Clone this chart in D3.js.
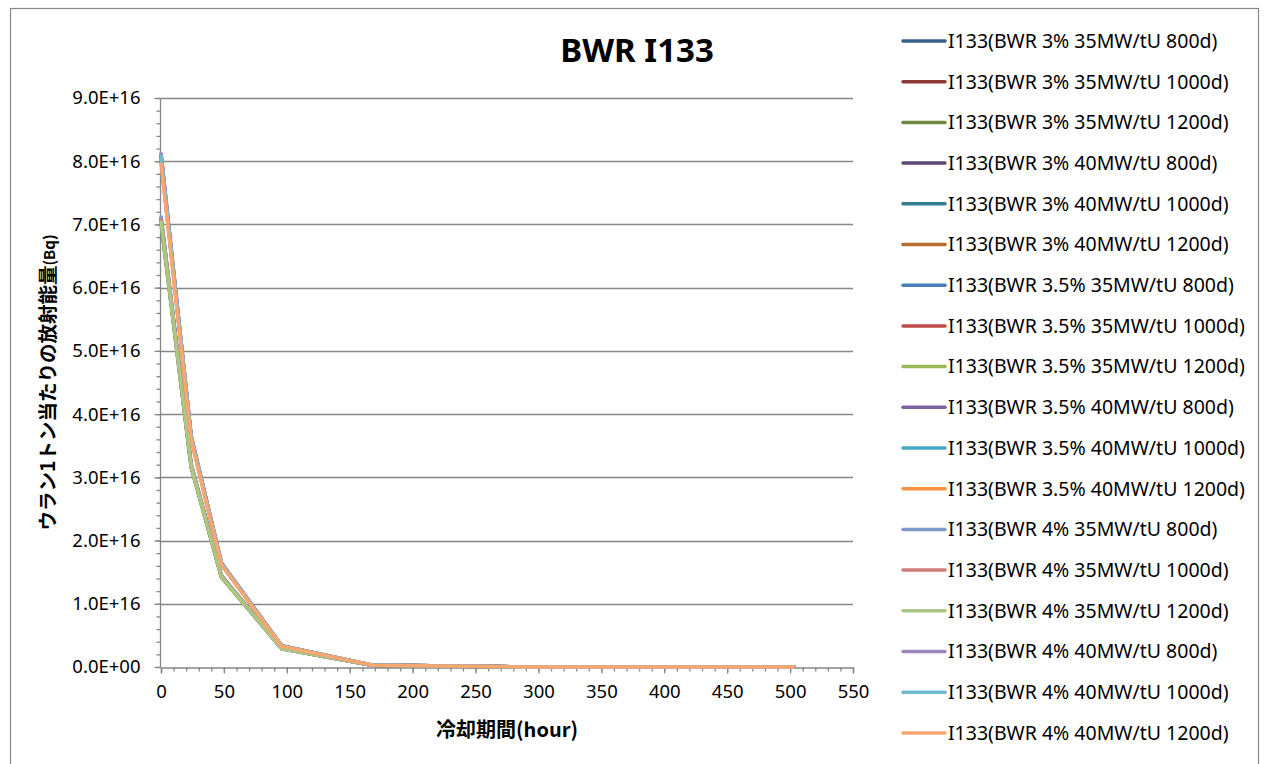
<!DOCTYPE html>
<html>
<head>
<meta charset="utf-8">
<title>BWR I133</title>
<script src="https://cdnjs.cloudflare.com/ajax/libs/d3/7.8.5/d3.min.js"></script>
<style>
  body { margin: 0; background: #fff; }
  text { font-family: "Noto Sans", "Open Sans", sans-serif; fill: #000; }
  .jp { font-family: "Noto Sans CJK JP", "Noto Sans", sans-serif; }
</style>
</head>
<body>
<div id="chart"></div>
<script>
  var width = 1268, height = 764;

  // cooling time (hour)
  var hours = [0, 24, 48, 96, 168, 288, 504];

  var seriesNames = [
    "I133(BWR 3% 35MW/tU 800d)",
    "I133(BWR 3% 35MW/tU 1000d)",
    "I133(BWR 3% 35MW/tU 1200d)",
    "I133(BWR 3% 40MW/tU 800d)",
    "I133(BWR 3% 40MW/tU 1000d)",
    "I133(BWR 3% 40MW/tU 1200d)",
    "I133(BWR 3.5% 35MW/tU 800d)",
    "I133(BWR 3.5% 35MW/tU 1000d)",
    "I133(BWR 3.5% 35MW/tU 1200d)",
    "I133(BWR 3.5% 40MW/tU 800d)",
    "I133(BWR 3.5% 40MW/tU 1000d)",
    "I133(BWR 3.5% 40MW/tU 1200d)",
    "I133(BWR 4% 35MW/tU 800d)",
    "I133(BWR 4% 35MW/tU 1000d)",
    "I133(BWR 4% 35MW/tU 1200d)",
    "I133(BWR 4% 40MW/tU 800d)",
    "I133(BWR 4% 40MW/tU 1000d)",
    "I133(BWR 4% 40MW/tU 1200d)"
  ];

  var seriesColors = [
    "#385d8a", "#8c3836", "#71893f", "#5c4776", "#357d91", "#b66d31",
    "#4a7ebb", "#be4b48", "#98b954", "#7d60a0", "#46aac5", "#f69240",
    "#7e9bcd", "#cf7b79", "#abc785", "#9c87ba", "#71bbd1", "#f9a66f"
  ];

  // activity per tonne of uranium (Bq), one row per series
  var s01 = [7.10e16, 3.19e16, 1.44e16, 2.92e15, 2.63e14, 4.9e12, 3.6e9];
  var s02 = [7.06e16, 3.17e16, 1.43e16, 2.90e15, 2.61e14, 4.8e12, 3.6e9];
  var s03 = [7.02e16, 3.15e16, 1.42e16, 2.88e15, 2.60e14, 4.8e12, 3.5e9];
  var s04 = [8.10e16, 3.64e16, 1.64e16, 3.33e15, 3.00e14, 5.6e12, 4.1e9];
  var s05 = [8.06e16, 3.62e16, 1.63e16, 3.31e15, 2.98e14, 5.5e12, 4.1e9];
  var s06 = [8.02e16, 3.60e16, 1.62e16, 3.29e15, 2.97e14, 5.5e12, 4.0e9];
  var s07 = [7.12e16, 3.20e16, 1.44e16, 2.93e15, 2.64e14, 4.9e12, 3.6e9];
  var s08 = [7.08e16, 3.18e16, 1.43e16, 2.91e15, 2.62e14, 4.8e12, 3.6e9];
  var s09 = [7.04e16, 3.16e16, 1.42e16, 2.89e15, 2.60e14, 4.8e12, 3.5e9];
  var s10 = [8.12e16, 3.65e16, 1.65e16, 3.34e15, 3.01e14, 5.6e12, 4.1e9];
  var s11 = [8.08e16, 3.63e16, 1.64e16, 3.32e15, 2.99e14, 5.5e12, 4.1e9];
  var s12 = [8.04e16, 3.61e16, 1.63e16, 3.30e15, 2.98e14, 5.5e12, 4.0e9];
  var s13 = [7.14e16, 3.21e16, 1.45e16, 2.94e15, 2.65e14, 4.9e12, 3.6e9];
  var s14 = [7.10e16, 3.19e16, 1.44e16, 2.92e15, 2.63e14, 4.9e12, 3.6e9];
  var s15 = [7.06e16, 3.17e16, 1.43e16, 2.90e15, 2.61e14, 4.8e12, 3.6e9];
  var s16 = [8.14e16, 3.66e16, 1.65e16, 3.35e15, 3.02e14, 5.6e12, 4.2e9];
  var s17 = [8.10e16, 3.64e16, 1.64e16, 3.33e15, 3.00e14, 5.6e12, 4.1e9];
  var s18 = [7.98e16, 3.59e16, 1.62e16, 3.28e15, 2.96e14, 5.5e12, 4.0e9];

  var seriesValues = [s01, s02, s03, s04, s05, s06, s07, s08, s09,
                      s10, s11, s12, s13, s14, s15, s16, s17, s18];

  var xTicks = d3.range(0, 551, 50);
  var yTicks = d3.range(0, 9.01e16, 1e16);

  var plot = { left: 161, right: 853, top: 98, bottom: 667 };

  var svg = d3.select('#chart').append('svg')
    .attr('width', width)
    .attr('height', height);

  // chart frame
  svg.append('rect')
    .attr('x', 10.5).attr('y', 8.5)
    .attr('width', 1248).attr('height', 800)
    .attr('fill', 'none')
    .attr('stroke', '#888')
    .attr('stroke-width', 1.2);

  var xScale = d3.scaleLinear().domain([0, 550]).range([plot.left, plot.right]);
  var yScale = d3.scaleLinear().domain([0, 9e16]).range([plot.bottom, plot.top]);

  // horizontal gridlines
  svg.append('g').selectAll('line').data(yTicks.slice(1)).enter().append('line')
    .attr('x1', plot.left).attr('x2', plot.right)
    .attr('y1', function(d){ return Math.round(yScale(d)) + 0.5; })
    .attr('y2', function(d){ return Math.round(yScale(d)) + 0.5; })
    .attr('stroke', '#878787')
    .attr('stroke-width', 1.3);

  // y axis: major ticks with labels, minor ticks every 2E+15
  var yAxis = d3.axisLeft(yScale)
    .tickValues(yTicks)
    .tickSize(6)
    .tickPadding(14)
    .tickFormat(function(d){ return d3.format('.1e')(d).replace('e+', 'E+').replace('E+0', 'E+00'); });
  var yG = svg.append('g').attr('transform', 'translate(' + (plot.left - 0.5) + ',0)').call(yAxis);
  svg.append('g').attr('transform', 'translate(' + (plot.left - 0.5) + ',0)')
    .call(d3.axisLeft(yScale).tickValues(d3.range(0, 9.01e16, 2e15)).tickSize(4).tickFormat(''))
    .select('.domain').remove();

  // x axis: major ticks every 50, minor ticks every 10
  var xAxis = d3.axisBottom(xScale).tickValues(xTicks).tickSize(6).tickPadding(11);
  var xG = svg.append('g').attr('transform', 'translate(0,' + (plot.bottom + 0.5) + ')').call(xAxis);
  svg.append('g').attr('transform', 'translate(0,' + (plot.bottom + 0.5) + ')')
    .call(d3.axisBottom(xScale).tickValues(d3.range(0, 551, 10)).tickSize(4).tickFormat(''))
    .select('.domain').remove();

  svg.selectAll('.domain').attr('stroke', '#878787').attr('stroke-width', 1.3);
  svg.selectAll('.tick line').attr('stroke', '#878787').attr('stroke-width', 1.3);
  svg.selectAll('.tick text')
    .style('font-family', '"Noto Sans", sans-serif')
    .style('font-size', '18.5px')
    .attr('fill', '#000');
  yG.selectAll('.domain').attr('d', 'M0,' + plot.bottom + 'V' + plot.top);

  // series lines
  var line = d3.line()
    .x(function(d, i){ return xScale(hours[i]); })
    .y(function(d){ return yScale(d); });

  svg.append('g').selectAll('path').data(seriesValues).enter().append('path')
    .attr('d', line)
    .attr('fill', 'none')
    .attr('stroke', function(d, i){ return seriesColors[i]; })
    .attr('stroke-width', 3.5)
    .attr('stroke-linejoin', 'round');

  // title
  svg.append('text')
    .attr('x', 637).attr('y', 62)
    .attr('text-anchor', 'middle')
    .style('font-size', '33px')
    .style('font-weight', 'bold')
    .text('BWR I133');

  // axis titles
  svg.append('text')
    .attr('class', 'jp')
    .attr('x', (plot.left + plot.right) / 2).attr('y', 737)
    .attr('text-anchor', 'middle')
    .style('font-size', '20px')
    .style('font-weight', 'bold')
    .text('冷却期間(hour)');

  var yTitle = svg.append('text')
    .attr('class', 'jp')
    .attr('transform', 'translate(55,' + ((plot.top + plot.bottom) / 2) + ') rotate(-90)')
    .attr('text-anchor', 'middle')
    .style('font-size', '19.5px')
    .style('font-weight', 'bold');
  yTitle.append('tspan').text('ウラン1トン当たりの放射能量');
  yTitle.append('tspan').style('font-size', '15px').text('(Bq)');

  // legend
  var legend = svg.append('g').selectAll('g').data(seriesNames).enter().append('g')
    .attr('transform', function(d, i){ return 'translate(903,' + (41 + i * 40.7) + ')'; });
  legend.append('line')
    .attr('x1', 0).attr('x2', 42)
    .attr('stroke', function(d, i){ return seriesColors[i]; })
    .attr('stroke-width', 3.5)
    .attr('stroke-linecap', 'round');
  legend.append('text')
    .attr('x', 45).attr('dy', '0.35em')
    .style('font-size', '19.5px')
    .text(function(d){ return d; });
</script>
</body>
</html>
